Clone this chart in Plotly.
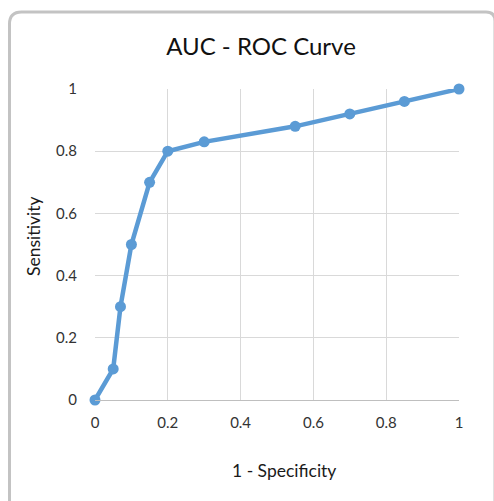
import plotly.graph_objects as go

# ROC curve points
fpr = [0, 0.05, 0.07, 0.1, 0.15, 0.2, 0.3, 0.55, 0.7, 0.85, 1]
tpr = [0, 0.1, 0.3, 0.5, 0.7, 0.8, 0.83, 0.88, 0.92, 0.96, 1]
tick_vals = [0, 0.2, 0.4, 0.6, 0.8, 1]
tick_text = ["0", "0.2", "0.4", "0.6", "0.8", "1"]

W, H = 494, 501
L, R, T, B = 95, 35, 89, 101
pw, ph = W - L - R, H - T - B


def px_x(p):
    return (p - L) / pw


def px_y(p):
    return (H - B - p) / ph


FONT = "Lato, 'Open Sans', sans-serif"

fig = go.Figure()
fig.add_trace(go.Scatter(
    x=fpr, y=tpr, mode="lines+markers",
    line=dict(color="#5b9bd5", width=4.5),
    marker=dict(color="#5b9bd5", size=11),
    hoverinfo="x+y", showlegend=False, cliponaxis=False,
))

axis_common = dict(
    range=[0, 1], tickvals=tick_vals, ticktext=tick_text,
    showgrid=True, gridcolor="#d9d9d9", gridwidth=1,
    zeroline=False, ticks="", fixedrange=True,
    tickfont=dict(family=FONT, size=15, color="#333333"),
)
fig.update_xaxes(**axis_common, showline=True, linecolor="#bfbfbf",
                 linewidth=1, ticklabelstandoff=9, mirror=False)
fig.update_yaxes(**axis_common, showline=False, ticklabelstandoff=17)

# rounded chart border (top-left corner visible)
r = 12
path = (
    f"M {px_x(9.5)},{px_y(505)} L {px_x(9.5)},{px_y(12 + r)} "
    f"Q {px_x(9.5)},{px_y(12)} {px_x(9.5 + r)},{px_y(12)} "
    f"L {px_x(486)},{px_y(12)} Q {px_x(495)},{px_y(12)} {px_x(495)},{px_y(21)} "
    f"L {px_x(495)},{px_y(505)}"
)
fig.add_shape(type="path", path=path, xref="paper", yref="paper",
              line=dict(color="#c3c3c3", width=3), layer="above")

fig.add_annotation(text="1 - Specificity", xref="paper", yref="paper",
                   x=px_x(284), y=px_y(470), showarrow=False,
                   font=dict(family=FONT, size=17.5, color="#1a1a1a"),
                   xanchor="center", yanchor="middle")
fig.add_annotation(text="Sensitivity", xref="paper", yref="paper",
                   x=px_x(33), y=px_y(236), showarrow=False, textangle=-90,
                   font=dict(family=FONT, size=17.5, color="#1a1a1a"),
                   xanchor="center", yanchor="middle")

fig.update_layout(
    width=W, height=H,
    margin=dict(l=L, r=R, t=T, b=B),
    paper_bgcolor="white", plot_bgcolor="white",
    title=dict(text="AUC - ROC Curve", x=261 / W, xref="container",
               xanchor="center", y=1 - 47 / H, yref="container",
               yanchor="middle",
               font=dict(family=FONT, size=24, color="#111111")),
)

fig.write_html("out.html")
